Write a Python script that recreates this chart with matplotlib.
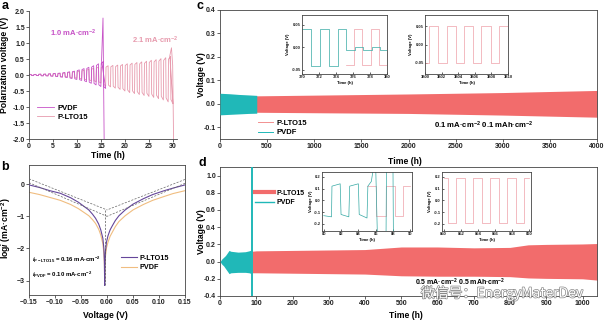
import matplotlib
matplotlib.use("Agg")
import matplotlib.pyplot as plt
import matplotlib.patheffects as pe
from matplotlib.lines import Line2D
import numpy as np

plt.rcParams['font.family'] = ['Liberation Sans', 'DejaVu Sans']
plt.rcParams['font.weight'] = 'bold'
plt.rcParams['axes.labelweight'] = 'bold'
plt.rcParams['mathtext.fontset'] = 'custom'
plt.rcParams['mathtext.rm'] = 'Liberation Sans:bold'
plt.rcParams['mathtext.it'] = 'Liberation Sans:italic:bold'
plt.rcParams['mathtext.bf'] = 'Liberation Sans:bold'

# ---------------- data ----------------
# panel a: per-cycle polarization amplitudes (1 cycle per hour)
a_pvdf_up = [0.02, 0.02, 0.03, 0.03, 0.04, 0.05, 0.06, 0.08, 0.10, 0.12, 0.16, 0.20, 0.24, 0.29, 0.35, 0.42]
a_pvdf_lo = [-0.02, -0.02, -0.03, -0.03, -0.04, -0.05, -0.07, -0.08, -0.11, -0.14, -0.17, -0.21, -0.26, -0.31, -0.36, -0.42]
a_pvdf_fail_t = [15.1, 15.4, 15.65]
a_pvdf_fail_v = [0.45, 1.78, -2.2]
a_lto_up = [0.01, 0.015, 0.02, 0.025, 0.03, 0.04, 0.05, 0.06, 0.08, 0.10, 0.12, 0.15, 0.18, 0.21, 0.25,
            0.28, 0.29, 0.30, 0.31, 0.33, 0.35, 0.37, 0.39, 0.41, 0.43, 0.46, 0.48, 0.51, 0.54, 0.58]
a_lto_lo = [-0.01, -0.015, -0.02, -0.025, -0.03, -0.04, -0.05, -0.06, -0.08, -0.10, -0.12, -0.15, -0.18, -0.21, -0.25,
            -0.34, -0.37, -0.41, -0.45, -0.50, -0.55, -0.58, -0.61, -0.64, -0.67, -0.70, -0.74, -0.78, -0.84, -0.90]
a_lto_fail_t = [29.3, 29.65, 29.9, 30.1]
a_lto_fail_v = [0.6, 0.85, 0.3, -2.2]

# panel b: Tafel curves
b_v = [-0.15, -0.13, -0.11, -0.09, -0.07, -0.055, -0.045, -0.035, -0.028, -0.022, -0.016, -0.012,
       -0.008, -0.006, -0.005, -0.0045, -0.004, -0.003, -0.001, 0.002, 0.006, 0.01, 0.016, 0.023,
       0.035, 0.05, 0.07, 0.088, 0.11, 0.127, 0.15]
b_lto = [-0.02, -0.10, -0.20, -0.28, -0.42, -0.56, -0.68, -0.80, -0.93, -1.06, -1.24, -1.42,
         -1.68, -2.00, -2.40, -3.15, -2.60, -2.10, -1.80, -1.60, -1.42, -1.30, -1.13, -0.98,
         -0.80, -0.62, -0.45, -0.32, -0.20, -0.12, -0.02]
b_pvdf = [-0.25, -0.32, -0.41, -0.50, -0.63, -0.76, -0.87, -0.98, -1.10, -1.22, -1.40, -1.58,
          -1.85, -2.15, -2.50, -3.00, -2.60, -2.25, -1.98, -1.80, -1.62, -1.50, -1.32, -1.16,
          -0.98, -0.80, -0.63, -0.50, -0.38, -0.29, -0.20]
b_tan_lto_v = [[-0.15, 0.0], [0.15, 0.0]]
b_tan_lto_y = [[0.17, -0.80], [0.15, -0.80]]
b_tan_pvdf_v = [[-0.15, 0.0], [0.15, 0.0]]
b_tan_pvdf_y = [[0.05, -1.00], [0.03, -1.00]]
b_e0 = -0.0045

# panel c: envelope of cycling voltage
c_pvdf_t = [0, 100, 200, 300, 390]
c_pvdf_up = [0.045, 0.043, 0.040, 0.038, 0.036]
c_pvdf_lo = [-0.047, -0.045, -0.043, -0.041, -0.040]
c_lto_t = [380, 1000, 2000, 3000, 4000]
c_lto_up = [0.034, 0.037, 0.042, 0.048, 0.057]
c_lto_lo = [-0.036, -0.038, -0.041, -0.048, -0.057]
# inset c1
c1_teal_t = [370, 371.06, 372.1, 373.2, 374.2, 375.2, 376.2, 377.2, 378.2, 379.2, 380]
c1_teal_v = [0.041, -0.042, 0.041, -0.042, 0.041, -0.006, 0.001, -0.006, 0.001, -0.006, -0.006]
c1_pink_t = [375.2, 376.1, 377.1, 378.1, 379.1, 380]
c1_pink_v = [-0.040, 0.040, -0.040, 0.040, -0.040, -0.040]
# inset c2
c2_t = [3800, 3800.5, 3801.6, 3802.6, 3803.7, 3804.7, 3805.8, 3806.8, 3807.9, 3808.9, 3810]
c2_v = [-0.05, 0.05, -0.05, 0.05, -0.05, 0.05, -0.05, 0.05, -0.05, 0.05, 0.05]

# panel d
d_pvdf_t = [0, 5, 10, 15, 20, 25, 30, 50, 70, 80, 87]
d_pvdf_up = [0.0, 0.03, 0.05, 0.07, 0.10, 0.13, 0.12, 0.11, 0.115, 0.125, 0.135]
d_pvdf_lo = [0.0, -0.03, -0.05, -0.08, -0.11, -0.14, -0.13, -0.125, -0.125, -0.13, -0.14]
d_short_t = 88
d_lto_t = [88, 100, 200, 300, 400, 450, 500, 600, 700, 800, 850, 900, 1000, 1040]
d_lto_up = [0.12, 0.125, 0.13, 0.135, 0.14, 0.155, 0.17, 0.17, 0.16, 0.165, 0.195, 0.20, 0.205, 0.21]
d_lto_lo = [-0.13, -0.13, -0.135, -0.14, -0.145, -0.155, -0.165, -0.17, -0.17, -0.175, -0.19, -0.195, -0.20, -0.215]
# inset d1
d1_teal_t = [80, 80.9, 80.95, 81.9, 82.0, 82.9, 83.0, 84.0, 84.1, 85.0, 85.1, 85.5, 85.8, 86.0, 86.2, 87.2, 87.25, 88.0, 88.05]
d1_teal_v = [-0.13, -0.14, 0.12, 0.14, -0.12, -0.14, 0.12, 0.14, -0.12, -0.15, 0.12, 0.16, 0.3, 0.3, -0.3, -0.3, 0.3, 0.3, -0.3]
d1_pink_t = [85.0, 86.0, 87.2, 88.2, 89.2, 90]
d1_pink_v = [0.12, -0.13, 0.12, -0.13, 0.12, 0.12]
# inset d2
d2_t = [850, 850.5, 851.4, 852.5, 853.4, 854.5, 855.4, 856.5, 857.4, 858.5, 859.4, 860]
d2_v = [0.19, -0.19, 0.19, -0.19, 0.19, -0.19, 0.19, -0.19, 0.19, -0.19, 0.19, 0.19]

# ---------------- style ----------------
TEAL = '#20b8b8'
SALMON = '#f26c6c'
A_PVDF = '#c752c7'
A_LTO = '#e79aad'
B_LTO = '#65469a'
B_PVDF = '#f0bd80'
SPC = '#444444'

W, H = 605, 322
fig = plt.figure(figsize=(W / 100, H / 100), dpi=100)


def ax_px(l, t, r, b):
    return fig.add_axes([l / W, 1 - b / H, (r - l) / W, (b - t) / H])


def ftext(x, y, s, **kw):
    return fig.text(x / W, 1 - y / H, s, **kw)


def style(ax, ls=5, box=True, direction='out', length=2.0):
    for s in ax.spines.values():
        s.set_color(SPC)
        s.set_linewidth(0.6)
    if not box:
        ax.spines['top'].set_visible(False)
        ax.spines['right'].set_visible(False)
    ax.tick_params(labelsize=ls, width=0.5, length=length, direction=direction, pad=1, colors='#222222')


def wave(start, up, lo):
    t, v = [], []
    for i, (u, l) in enumerate(zip(up, lo)):
        k = start + i
        t += [k + 0.03, k + 0.46, k + 0.53, k + 0.96]
        v += [u * 0.85, u, l * 0.85, l]
    return t, v


# ---------------- panel a ----------------
ax = ax_px(29, 11, 177, 139)
style(ax, box=False)
t_l, v_l = wave(0, a_lto_up, a_lto_lo)
t_l += a_lto_fail_t
v_l += a_lto_fail_v
t_p, v_p = wave(0, a_pvdf_up, a_pvdf_lo)
t_p += a_pvdf_fail_t
v_p += a_pvdf_fail_v
l_lto, = ax.plot(t_l, v_l, color=A_LTO, lw=0.6)
l_pv, = ax.plot(t_p, v_p, color=A_PVDF, lw=0.6)
ax.set_xlim(0, 30.8)
ax.set_ylim(-2.0, 2.0)
ax.set_xticks(range(0, 31, 5))
ax.set_yticks(np.arange(-2.0, 2.01, 0.5))
ax.yaxis.set_major_formatter(matplotlib.ticker.FormatStrFormatter('%.1f'))
ax.legend([l_pv, l_lto], ['PVDF', 'P-LTO15'], loc='center left', bbox_to_anchor=(37 / W, 1 - 112.5 / H),
          bbox_transform=fig.transFigure, frameon=False, fontsize=5.5, handlelength=2.2,
          handletextpad=0.5, labelspacing=0.25, borderpad=0, borderaxespad=0)
ftext(73, 33, '1.0 mA·cm$^{-2}$', color=A_PVDF, fontsize=5.5, ha='center', va='center')
ftext(155, 40, '2.1 mA·cm$^{-2}$', color=A_LTO, fontsize=5.5, ha='center', va='center')
ftext(5, 65, 'Polarization voltage (V)', rotation=90, fontsize=6.2, ha='center', va='center')
ftext(108, 156, 'Time (h)', fontsize=6.2, ha='center', va='center')

# ---------------- panel b ----------------
ax = ax_px(29, 165, 185, 295)
style(ax)
ax.plot(b_v, b_pvdf, color=B_PVDF, lw=0.8, zorder=2)
lb1, = ax.plot(b_v, b_lto, color=B_LTO, lw=0.8, zorder=3)
lb2 = Line2D([], [], color=B_PVDF, lw=0.8)
for xs, ys in zip(b_tan_lto_v + b_tan_pvdf_v, b_tan_lto_y + b_tan_pvdf_y):
    ax.plot(xs, ys, color='#666666', lw=0.5, ls=(0, (3, 2)), zorder=4)
ax.plot([b_e0, b_e0], [b_tan_lto_y[0][1], min(b_lto)], color='#555555', lw=0.5, ls=(0, (3, 2)), zorder=4)
ax.set_xlim(-0.15, 0.15)
ax.set_ylim(-3.45, 0.6)
ax.set_xticks(np.arange(-0.15, 0.151, 0.05))
ax.xaxis.set_major_formatter(matplotlib.ticker.FuncFormatter(lambda x, p: ('%.2f' % x).replace('-', '\u2212') if abs(x) > 1e-9 else '0.00'))
ax.set_yticks([0, -1, -2, -3])
ax.legend([lb1, lb2], ['P-LTO15', 'PVDF'], loc='center left', bbox_to_anchor=(121 / W, 1 - 263 / H),
          bbox_transform=fig.transFigure, frameon=False, fontsize=5.2, handlelength=2.2,
          handletextpad=0.4, labelspacing=0.3, borderpad=0, borderaxespad=0)
ftext(32, 260, r'$\mathit{i}_{\mathrm{P-LTO15}}$ = 0.16 mA·cm$^{-2}$', fontsize=4.3, ha='left', va='center')
ftext(32, 275, r'$\mathit{i}_{\mathrm{PVDF}}$ = 0.10 mA·cm$^{-2}$', fontsize=4.3, ha='left', va='center')
ftext(6.5, 228, r'log$\mathit{i}$ (mA·cm$^{-2}$)', rotation=90, fontsize=6.2, ha='center', va='center')
ftext(105, 315, 'Voltage (V)', fontsize=6.2, ha='center', va='center')

# ---------------- panel c ----------------
ax = ax_px(220, 10, 597, 139)
style(ax)
ax.fill_between(c_lto_t, c_lto_lo, c_lto_up, color=SALMON, lw=0, zorder=2)
ax.fill_between(c_pvdf_t, c_pvdf_lo, c_pvdf_up, color=TEAL, lw=0, zorder=3)
ax.set_xlim(0, 4000)
ax.set_ylim(-0.15, 0.4)
ax.set_xticks(range(0, 4001, 500))
ax.set_yticks(np.arange(-0.1, 0.41, 0.1))
ax.yaxis.set_major_formatter(matplotlib.ticker.FormatStrFormatter('%.1f'))
hc1 = Line2D([], [], color='#f29090', lw=0.7)
hc2 = Line2D([], [], color=TEAL, lw=0.7)
ax.legend([hc1, hc2], ['P-LTO15', 'PVDF'], loc='center left', bbox_to_anchor=(258 / W, 1 - 128 / H),
          bbox_transform=fig.transFigure, frameon=False, fontsize=5.5, handlelength=2.0,
          handletextpad=0.4, labelspacing=0.3, borderpad=0, borderaxespad=0)
ftext(484, 125, '0.1 mA·cm$^{-2}$ 0.1 mAh·cm$^{-2}$', fontsize=5.6, ha='center', va='center')
ftext(201, 75, 'Voltage (V)', rotation=90, fontsize=6.2, ha='center', va='center')
ftext(405, 161, 'Time (h)', fontsize=6.2, ha='center', va='center')

# inset c1
ia = ax_px(302, 15, 387, 74)
style(ia, ls=3, direction='in', length=1.2)
ia.step(c1_pink_t, c1_pink_v, where='post', color='#eea0a8', lw=0.5)
ia.step(c1_teal_t, c1_teal_v, where='post', color='#35a9a4', lw=0.5)
ia.set_xlim(370, 380)
ia.set_ylim(-0.06, 0.072)
ia.set_xticks(range(370, 381, 2))
ia.set_yticks([-0.05, 0.0, 0.05])
ia.yaxis.set_major_formatter(matplotlib.ticker.FormatStrFormatter('%.2f'))
ia.set_xlabel('Time (h)', fontsize=3, labelpad=1)
ia.set_ylabel('Voltage (V)', fontsize=3, labelpad=1)

# inset c2
ib = ax_px(425, 15, 508, 74)
style(ib, ls=3, direction='in', length=1.2)
ib.step(c2_t, c2_v, where='post', color='#eea0a8', lw=0.5)
ib.set_xlim(3800, 3810)
ib.set_ylim(-0.08, 0.08)
ib.set_xticks(range(3800, 3811, 2))
ib.set_yticks([-0.05, 0.0, 0.05])
ib.yaxis.set_major_formatter(matplotlib.ticker.FormatStrFormatter('%.2f'))
ib.set_xlabel('Time (h)', fontsize=3, labelpad=1)
ib.set_ylabel('Voltage (V)', fontsize=3, labelpad=1)

# ---------------- panel d ----------------
ax = ax_px(220, 167, 597, 296)
style(ax)
ax.fill_between(d_lto_t, d_lto_lo, d_lto_up, color=SALMON, lw=0, zorder=2)
ax.fill_between(d_pvdf_t, d_pvdf_lo, d_pvdf_up, color=TEAL, lw=0, zorder=3)
ax.plot([d_short_t, d_short_t], [-0.5, 1.2], color=TEAL, lw=1.4, zorder=4)
ax.set_xlim(0, 1040)
ax.set_ylim(-0.4, 1.1)
ax.set_xticks(range(0, 1001, 100))
ax.set_yticks(np.arange(-0.4, 1.01, 0.2))
ax.yaxis.set_major_formatter(matplotlib.ticker.FormatStrFormatter('%.1f'))
hd1 = Line2D([], [], color=SALMON, lw=3)
hd2 = Line2D([], [], color=TEAL, lw=1.0)
ax.legend([hd1, hd2], ['P-LTO15', 'PVDF'], loc='center left', bbox_to_anchor=(255 / W, 1 - 198 / H),
          bbox_transform=fig.transFigure, frameon=False, fontsize=5.0, handlelength=2.7,
          handletextpad=0.35, labelspacing=0.4, borderpad=0, borderaxespad=0)
ftext(460, 282, '0.5 mA·cm$^{-2}$ 0.5 mAh·cm$^{-2}$', fontsize=5, ha='center', va='center')
ftext(201, 232, 'Voltage (V)', rotation=90, fontsize=6.2, ha='center', va='center')
ftext(406, 316, 'Time (h)', fontsize=6.2, ha='center', va='center')

# inset d1
ic = ax_px(322, 172, 412, 231)
style(ic, ls=3, direction='in', length=1.2)
ic.step(d1_pink_t, d1_pink_v, where='post', color='#eea0a8', lw=0.5)
ic.plot(d1_teal_t, d1_teal_v, color='#35a9a4', lw=0.5)
ic.set_xlim(79.8, 90.2)
ic.set_ylim(-0.26, 0.24)
ic.set_xticks(range(80, 91, 2))
ic.set_yticks([-0.2, -0.1, 0.0, 0.1, 0.2])
ic.yaxis.set_major_formatter(matplotlib.ticker.FormatStrFormatter('%.1f'))
ic.set_xlabel('Time (h)', fontsize=3, labelpad=1)
ic.set_ylabel('Voltage (V)', fontsize=3, labelpad=0.5)

# inset d2
idd = ax_px(442, 172, 531, 231)
style(idd, ls=3, direction='in', length=1.2)
idd.step(d2_t, d2_v, where='post', color='#eea0a8', lw=0.5)
idd.set_xlim(849.8, 860.2)
idd.set_ylim(-0.26, 0.24)
idd.set_xticks(range(850, 861, 2))
idd.set_yticks([-0.2, -0.1, 0.0, 0.1, 0.2])
idd.yaxis.set_major_formatter(matplotlib.ticker.FormatStrFormatter('%.1f'))
idd.set_xlabel('Time (h)', fontsize=3, labelpad=1)
idd.set_ylabel('Voltage (V)', fontsize=3, labelpad=1)

# panel letters
for lab, x, y in [('a', 5, 6), ('b', 5, 167), ('c', 200, 6), ('d', 202, 163)]:
    ftext(x, y, lab, fontsize=9, fontweight='bold', ha='center', va='center')

# watermark
ftext(502, 293, '微信号：EnergyMaterDev', fontsize=10, color='white', ha='center', va='center',
      family=['Noto Sans CJK SC', 'DejaVu Sans'], fontweight='normal',
      path_effects=[pe.withStroke(linewidth=1.0, foreground='#8a8a8a')], zorder=10)

fig.savefig('out.png', dpi=100)
